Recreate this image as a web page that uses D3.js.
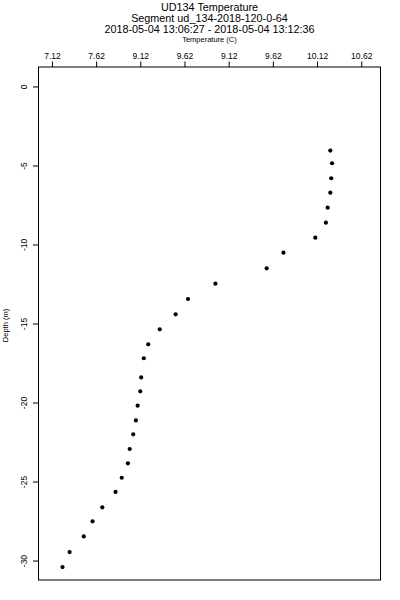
<!DOCTYPE html>
<html>
<head>
<meta charset="utf-8">
<script src="https://cdn.jsdelivr.net/npm/d3@7"></script>
<style>
  body { margin: 0; background: #fff; }
  text { font-family: "Liberation Sans", Arial, sans-serif; fill: #000; }
</style>
</head>
<body>
<div class="profile-plot"></div>
<script>
// readings from the cast, depth (m) and temperature (C)
const depths = [-4.06, -4.86, -5.81, -6.72, -7.67, -8.62, -9.57, -10.52, -11.51, -12.48,
    -13.45, -14.42, -15.37, -16.32, -17.20, -18.41, -19.29, -20.20, -21.13, -22.01,
    -22.94, -23.85, -24.76, -25.66, -26.63, -27.52, -28.47, -29.46, -30.41];
const temps = [10.27, 10.29, 10.28, 10.27, 10.24, 10.22, 10.10, 9.74, 9.55, 8.97,
    8.66, 8.52, 8.34, 8.21, 8.16, 8.13, 8.12, 8.09, 8.07, 8.04,
    8.00, 7.98, 7.91, 7.84, 7.69, 7.58, 7.48, 7.32, 7.24];
const xTicks = [7.12, 7.62, 8.12, 8.62, 9.12, 9.62, 10.12, 10.62];
const xTickLabels = ['7.12', '7.62', '9.12', '9.62', '9.12', '9.62', '10.12', '10.62'];
const yTicks = [0, -5, -10, -15, -20, -25, -30];
const titleLines = ['UD134 Temperature', 'Segment ud_134-2018-120-0-64',
    '2018-05-04 13:06:27 - 2018-05-04 13:12:36'];

const width = 400;
const height = 600;
const plotLeft = 38.5, plotRight = 380.5, plotTop = 67, plotBottom = 580;

const svg = d3.select('.profile-plot')
    .append('svg')
    .attr('width', width)
    .attr('height', height)

const x = d3.scaleLinear().domain([6.968, 10.838]).range([plotLeft, plotRight]);
const y = d3.scaleLinear().domain([-31.23, 1.23]).range([plotBottom, plotTop]);

// titles
svg.selectAll('.title')
    .data(titleLines)
    .enter()
    .append('text')
    .attr('x', (plotLeft + plotRight) / 2)
    .attr('y', (d, i) => 11 + i * 11)
    .attr('text-anchor', 'middle')
    .attr('font-size', 10.8)
    .text(d => d)

svg.append('text')
    .attr('x', (plotLeft + plotRight) / 2)
    .attr('y', 42)
    .attr('text-anchor', 'middle')
    .attr('font-size', 7.5)
    .text('Temperature (C)')

// top axis
const xAxis = d3.axisTop(x)
    .tickValues(xTicks)
    .tickSize(5.5)
    .tickPadding(3)
    .tickFormat((d, i) => xTickLabels[i]);
const gx = svg.append('g')
    .attr('transform', `translate(0,${plotTop})`)
    .call(xAxis)
gx.select('.domain').remove();
gx.selectAll('line').attr('stroke', '#000');
gx.selectAll('text')
    .attr('font-size', 8.5)
    .attr('font-family', '"Liberation Sans", Arial, sans-serif')

// left axis, labels turned on their side
const yAxis = d3.axisLeft(y)
    .tickValues(yTicks)
    .tickSize(5.5)
    .tickFormat(d => d);
const gy = svg.append('g')
    .attr('transform', `translate(${plotLeft},0)`)
    .call(yAxis)
gy.select('.domain').remove();
gy.selectAll('line').attr('stroke', '#000');
gy.selectAll('text')
    .attr('font-size', 8.5)
    .attr('font-family', '"Liberation Sans", Arial, sans-serif')
    .attr('text-anchor', 'middle')
    .attr('dy', null)
    .attr('x', 0)
    .attr('y', 0)
    .attr('transform', 'translate(-12,0) rotate(-90)')

svg.append('text')
    .attr('transform', `translate(8,${(plotTop + plotBottom) / 2 + 2}) rotate(-90)`)
    .attr('text-anchor', 'middle')
    .attr('font-size', 7.5)
    .text('Depth (m)')

// frame
svg.append('rect')
    .attr('x', plotLeft)
    .attr('y', plotTop)
    .attr('width', plotRight - plotLeft)
    .attr('height', plotBottom - plotTop)
    .attr('fill', 'none')
    .attr('stroke', '#000')
    .attr('stroke-width', 1)

svg.selectAll('.pt')
    .data(depths)
    .enter()
    .append('circle')
    .attr('cx', (d, i) => x(temps[i]))
    .attr('cy', d => y(d))
    .attr('r', 2.1)
    .attr('fill', '#000')
</script>
</body>
</html>
